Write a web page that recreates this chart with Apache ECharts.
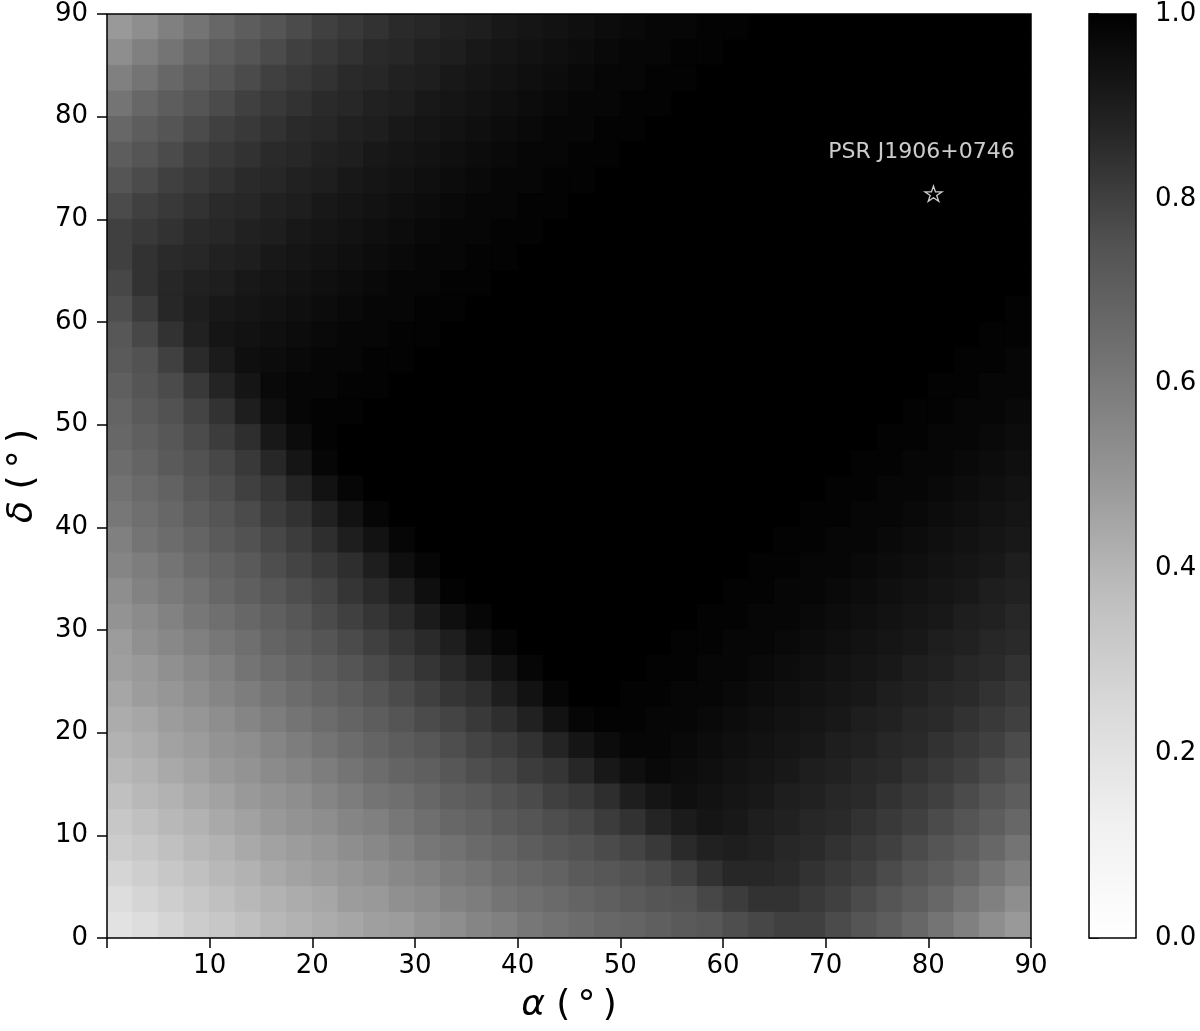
<!DOCTYPE html>
<html>
<head>
<meta charset="utf-8">
<script src="https://cdn.jsdelivr.net/npm/echarts@6/dist/echarts.min.js"></script>
<style>
  html, body { margin: 0; padding: 0; background: #fff; }
  #chart { width: 1200px; height: 1031px; }
</style>
</head>
<body>
<div id="chart"></div>
<script>
// cell centres (degrees), 2.5 deg cells
const alphaCenters = [1.25, 3.75, 6.25, 8.75, 11.25, 13.75, 16.25, 18.75, 21.25, 23.75, 26.25, 28.75,
  31.25, 33.75, 36.25, 38.75, 41.25, 43.75, 46.25, 48.75, 51.25, 53.75, 56.25, 58.75,
  61.25, 63.75, 66.25, 68.75, 71.25, 73.75, 76.25, 78.75, 81.25, 83.75, 86.25, 88.75]
// rows top to bottom
const deltaCenters = alphaCenters.slice().reverse()
const shadeRows = [
  [.49,.53,.58,.62,.67,.71,.74,.77,.80,.82,.84,.86,.87,.89,.90,.92,.93,.94,.95,.96,.97,.98,.98,.99,.99,1,1,1,1,1,1,1,1,1,1,1],
  [.53,.58,.62,.67,.71,.74,.77,.80,.82,.84,.86,.87,.89,.90,.92,.93,.94,.95,.96,.97,.98,.98,.99,.99,1,1,1,1,1,1,1,1,1,1,1,1],
  [.58,.62,.67,.71,.74,.77,.80,.82,.84,.86,.87,.89,.90,.92,.93,.94,.95,.96,.97,.98,.98,.99,.99,1,1,1,1,1,1,1,1,1,1,1,1,1],
  [.62,.67,.71,.74,.77,.80,.82,.84,.86,.87,.89,.90,.92,.93,.94,.95,.96,.97,.98,.98,.99,.99,1,1,1,1,1,1,1,1,1,1,1,1,1,1],
  [.67,.71,.74,.77,.80,.82,.84,.86,.87,.89,.90,.92,.93,.94,.95,.96,.97,.98,.98,.99,.99,1,1,1,1,1,1,1,1,1,1,1,1,1,1,1],
  [.71,.74,.77,.80,.82,.84,.86,.87,.89,.90,.92,.93,.94,.95,.96,.97,.98,.98,.99,.99,1,1,1,1,1,1,1,1,1,1,1,1,1,1,1,1],
  [.74,.77,.80,.82,.84,.86,.87,.89,.90,.92,.93,.94,.95,.96,.97,.98,.98,.99,.99,1,1,1,1,1,1,1,1,1,1,1,1,1,1,1,1,1],
  [.77,.80,.82,.84,.86,.87,.89,.90,.92,.93,.94,.95,.96,.97,.98,.98,.99,.99,1,1,1,1,1,1,1,1,1,1,1,1,1,1,1,1,1,1],
  [.80,.82,.84,.86,.87,.89,.90,.92,.93,.94,.95,.96,.97,.98,.98,.99,.99,1,1,1,1,1,1,1,1,1,1,1,1,1,1,1,1,1,1,1],
  [.80,.84,.86,.87,.89,.90,.92,.93,.94,.95,.96,.97,.98,.98,.99,.99,1,1,1,1,1,1,1,1,1,1,1,1,1,1,1,1,1,1,1,1],
  [.78,.84,.87,.89,.90,.92,.93,.94,.95,.96,.97,.98,.98,.99,.99,1,1,1,1,1,1,1,1,1,1,1,1,1,1,1,1,1,1,1,1,1],
  [.76,.81,.87,.90,.92,.93,.94,.95,.96,.97,.98,.98,.99,.99,1,1,1,1,1,1,1,1,1,1,1,1,1,1,1,1,1,1,1,1,1,.99],
  [.73,.78,.84,.89,.93,.94,.95,.96,.97,.98,.98,.99,.99,1,1,1,1,1,1,1,1,1,1,1,1,1,1,1,1,1,1,1,1,1,.99,.99],
  [.72,.75,.80,.86,.91,.95,.96,.97,.98,.98,.99,.99,1,1,1,1,1,1,1,1,1,1,1,1,1,1,1,1,1,1,1,1,1,.99,.99,.98],
  [.70,.74,.77,.82,.88,.93,.97,.98,.98,.99,.99,1,1,1,1,1,1,1,1,1,1,1,1,1,1,1,1,1,1,1,1,1,.99,.99,.98,.98],
  [.68,.72,.75,.79,.84,.90,.95,.98,.99,.99,1,1,1,1,1,1,1,1,1,1,1,1,1,1,1,1,1,1,1,1,1,.99,.99,.98,.98,.97],
  [.67,.70,.73,.77,.81,.85,.92,.96,.99,1,1,1,1,1,1,1,1,1,1,1,1,1,1,1,1,1,1,1,1,1,.99,.99,.98,.98,.97,.96],
  [.65,.68,.72,.75,.78,.82,.87,.93,.98,1,1,1,1,1,1,1,1,1,1,1,1,1,1,1,1,1,1,1,1,.99,.99,.98,.98,.97,.96,.95],
  [.63,.66,.69,.73,.76,.80,.83,.88,.94,.98,1,1,1,1,1,1,1,1,1,1,1,1,1,1,1,1,1,1,.99,.99,.98,.98,.97,.96,.95,.94],
  [.61,.64,.67,.71,.74,.77,.81,.84,.89,.94,.98,1,1,1,1,1,1,1,1,1,1,1,1,1,1,1,1,.99,.99,.98,.98,.97,.96,.95,.94,.93],
  [.58,.62,.65,.68,.72,.75,.78,.81,.85,.90,.94,.98,1,1,1,1,1,1,1,1,1,1,1,1,1,1,.99,.99,.98,.98,.97,.96,.95,.94,.93,.92],
  [.56,.59,.62,.66,.69,.72,.76,.79,.82,.85,.90,.95,.98,1,1,1,1,1,1,1,1,1,1,1,1,.99,.99,.98,.98,.97,.96,.95,.94,.93,.92,.90],
  [.53,.57,.60,.63,.67,.70,.73,.76,.79,.83,.86,.90,.95,.99,1,1,1,1,1,1,1,1,1,1,.99,.99,.98,.98,.97,.96,.95,.94,.93,.92,.90,.89],
  [.51,.54,.57,.61,.64,.67,.70,.73,.77,.80,.83,.86,.91,.95,.98,1,1,1,1,1,1,1,1,.99,.99,.98,.98,.97,.96,.95,.94,.93,.92,.90,.89,.87],
  [.48,.52,.55,.58,.61,.64,.68,.71,.74,.77,.80,.83,.86,.90,.95,.98,1,1,1,1,1,1,.99,.99,.98,.98,.97,.96,.95,.94,.93,.92,.90,.89,.87,.86],
  [.47,.49,.52,.55,.58,.62,.65,.68,.71,.74,.77,.80,.83,.86,.90,.94,.98,1,1,1,1,.99,.99,.98,.98,.97,.96,.95,.94,.93,.92,.90,.89,.87,.86,.84],
  [.45,.48,.50,.53,.56,.59,.62,.65,.68,.71,.74,.77,.80,.83,.85,.90,.94,.98,1,1,.99,.99,.98,.98,.97,.96,.95,.94,.93,.92,.90,.89,.87,.86,.84,.82],
  [.43,.45,.48,.50,.53,.56,.59,.62,.65,.68,.71,.74,.77,.79,.82,.85,.89,.94,.98,.99,.99,.98,.98,.97,.96,.95,.94,.93,.92,.90,.89,.87,.86,.84,.82,.80],
  [.41,.43,.46,.48,.51,.53,.56,.59,.62,.65,.68,.71,.73,.76,.79,.81,.84,.88,.93,.96,.98,.98,.97,.96,.95,.94,.93,.92,.90,.89,.87,.86,.84,.82,.80,.77],
  [.39,.41,.44,.46,.49,.51,.54,.56,.59,.62,.65,.68,.70,.73,.76,.78,.81,.83,.87,.92,.95,.97,.96,.95,.94,.93,.92,.90,.89,.87,.86,.84,.82,.80,.77,.74],
  [.36,.39,.41,.44,.46,.49,.51,.53,.56,.59,.62,.64,.67,.70,.72,.75,.77,.80,.82,.85,.90,.93,.95,.94,.93,.92,.90,.89,.87,.86,.84,.82,.80,.77,.74,.71],
  [.33,.36,.39,.41,.44,.46,.49,.51,.53,.56,.58,.61,.64,.67,.69,.72,.74,.76,.78,.81,.84,.88,.91,.93,.92,.90,.89,.87,.86,.84,.82,.80,.77,.74,.71,.67],
  [.31,.33,.36,.39,.41,.44,.46,.48,.50,.53,.55,.58,.61,.63,.66,.68,.71,.73,.75,.77,.79,.82,.86,.89,.90,.89,.87,.86,.84,.82,.80,.77,.74,.71,.67,.62],
  [.27,.30,.33,.36,.39,.41,.44,.46,.48,.50,.52,.55,.57,.60,.62,.65,.67,.69,.72,.73,.75,.77,.80,.84,.87,.87,.86,.84,.82,.80,.77,.74,.71,.67,.62,.58],
  [.23,.27,.30,.33,.36,.39,.41,.43,.45,.48,.49,.52,.54,.57,.59,.62,.64,.66,.68,.70,.72,.74,.75,.78,.81,.84,.84,.82,.80,.77,.74,.71,.67,.62,.58,.53],
  [.20,.23,.27,.31,.33,.36,.39,.41,.43,.45,.47,.48,.51,.53,.56,.58,.61,.63,.65,.67,.68,.70,.72,.73,.76,.78,.80,.80,.77,.74,.71,.67,.62,.58,.53,.49]
]
const pulsarName = ['PSR J1906+0746']
const pulsarAlpha = [80.5]
const pulsarDelta = [72.5]
const axisRange = [0, 90]
const colorbarRange = [0, 1]

// matplotlib "Greys"
const greys = ['#ffffff', '#f0f0f0', '#d9d9d9', '#bdbdbd', '#969696', '#737373', '#525252', '#252525', '#000000']

const cells = []
deltaCenters.forEach((d, r) => {
  alphaCenters.forEach((a, c) => {
    cells.push([a, d, shadeRows[r][c]])
  })
})
const halfA = (alphaCenters[1] - alphaCenters[0]) / 2
const halfD = (deltaCenters[0] - deltaCenters[1]) / 2

const font = 'DejaVu Sans'
const tickStyle = { show: true, length: 10, lineStyle: { color: '#000', width: 1.5 } }
const titleStyle = {
  fontFamily: font, fontSize: 36, color: '#000',
  rich: { i: { fontFamily: font, fontSize: 36, fontStyle: 'italic', color: '#000' } }
}

const chart = echarts.init(document.getElementById('chart'))

const option = {
  backgroundColor: '#fff',
  animation: false,
  grid: [
    { left: 107, right: 169, top: 14, bottom: 93, outerBoundsMode: 'none', show: true, borderColor: '#000', borderWidth: 1.5, backgroundColor: 'transparent', z: 10 },
    { left: 1089, width: 47, top: 14, bottom: 93, outerBoundsMode: 'none', show: true, borderColor: '#000', borderWidth: 1.5, backgroundColor: 'transparent', z: 10 }
  ],
  visualMap: {
    show: false,
    seriesIndex: 0,
    dimension: 2,
    min: colorbarRange[0],
    max: colorbarRange[1],
    inRange: { color: greys }
  },
  xAxis: [
    {
      type: 'value', gridIndex: 0, min: axisRange[0], max: axisRange[1], interval: 10,
      name: '{i|α} (\u2009°\u2009)', nameLocation: 'middle', nameGap: 50, nameTextStyle: titleStyle,
      axisLine: { show: false }, axisTick: tickStyle, splitLine: { show: false },
      axisLabel: { fontFamily: font, fontSize: 26, color: '#000', margin: 15, formatter: v => (v === 0 ? '' : String(v)) }
    },
    { type: 'value', gridIndex: 1, min: 0, max: 1, show: false }
  ],
  yAxis: [
    {
      type: 'value', gridIndex: 0, min: axisRange[0], max: axisRange[1], interval: 10,
      name: '{i|δ} (\u2009°\u2009)', nameLocation: 'middle', nameGap: 66, nameRotate: 90, nameTextStyle: titleStyle,
      axisLine: { show: false }, axisTick: tickStyle, splitLine: { show: false },
      axisLabel: { fontFamily: font, fontSize: 26, color: '#000', margin: 19 }
    },
    {
      type: 'value', gridIndex: 1, position: 'right', min: colorbarRange[0], max: colorbarRange[1], interval: 0.2,
      axisLine: { show: false }, axisTick: tickStyle, splitLine: { show: false },
      axisLabel: { fontFamily: font, fontSize: 26, color: '#000', margin: 19, formatter: v => v.toFixed(1) }
    }
  ],
  series: [
    {
      type: 'custom',
      xAxisIndex: 0,
      yAxisIndex: 0,
      clip: true,
      data: cells,
      renderItem(params, api) {
        const a = api.value(0)
        const d = api.value(1)
        const p0 = api.coord([a - halfA, d + halfD])
        const p1 = api.coord([a + halfA, d - halfD])
        const c = api.visual('color')
        return {
          type: 'rect',
          shape: { x: p0[0], y: p0[1], width: p1[0] - p0[0], height: p1[1] - p0[1] },
          style: { fill: c, stroke: c, lineWidth: 1 }
        }
      }
    },
    {
      type: 'custom',
      xAxisIndex: 1,
      yAxisIndex: 1,
      data: [colorbarRange],
      renderItem(params, api) {
        const p0 = api.coord([0, api.value(1)])
        const p1 = api.coord([1, api.value(0)])
        const stops = greys.map((col, k) => ({ offset: 1 - k / (greys.length - 1), color: col })).reverse()
        return {
          type: 'rect',
          shape: { x: p0[0], y: p0[1], width: p1[0] - p0[0], height: p1[1] - p0[1] },
          style: { fill: { type: 'linear', x: 0, y: 0, x2: 0, y2: 1, colorStops: stops } }
        }
      }
    },
    {
      type: 'scatter',
      xAxisIndex: 0,
      yAxisIndex: 0,
      z: 5,
      data: pulsarAlpha.map((a, k) => ({ value: [a, pulsarDelta[k]], name: pulsarName[k] })),
      symbol: 'path://M50 0 L61.23 34.55 L97.55 34.55 L68.17 55.9 L79.39 90.45 L50 69.1 L20.61 90.45 L31.83 55.9 L2.45 34.55 L38.77 34.55 Z',
      symbolSize: [17, 16],
      symbolKeepAspect: true,
      itemStyle: { color: 'rgba(0,0,0,0)', borderColor: '#fff', borderWidth: 1.3 },
      label: {
        show: true,
        position: 'top',
        distance: 22,
        offset: [-12, 0],
        formatter: p => p.name,
        fontFamily: font,
        fontSize: 22,
        color: '#fff'
      }
    }
  ]
}

chart.setOption(option)
</script>
</body>
</html>
